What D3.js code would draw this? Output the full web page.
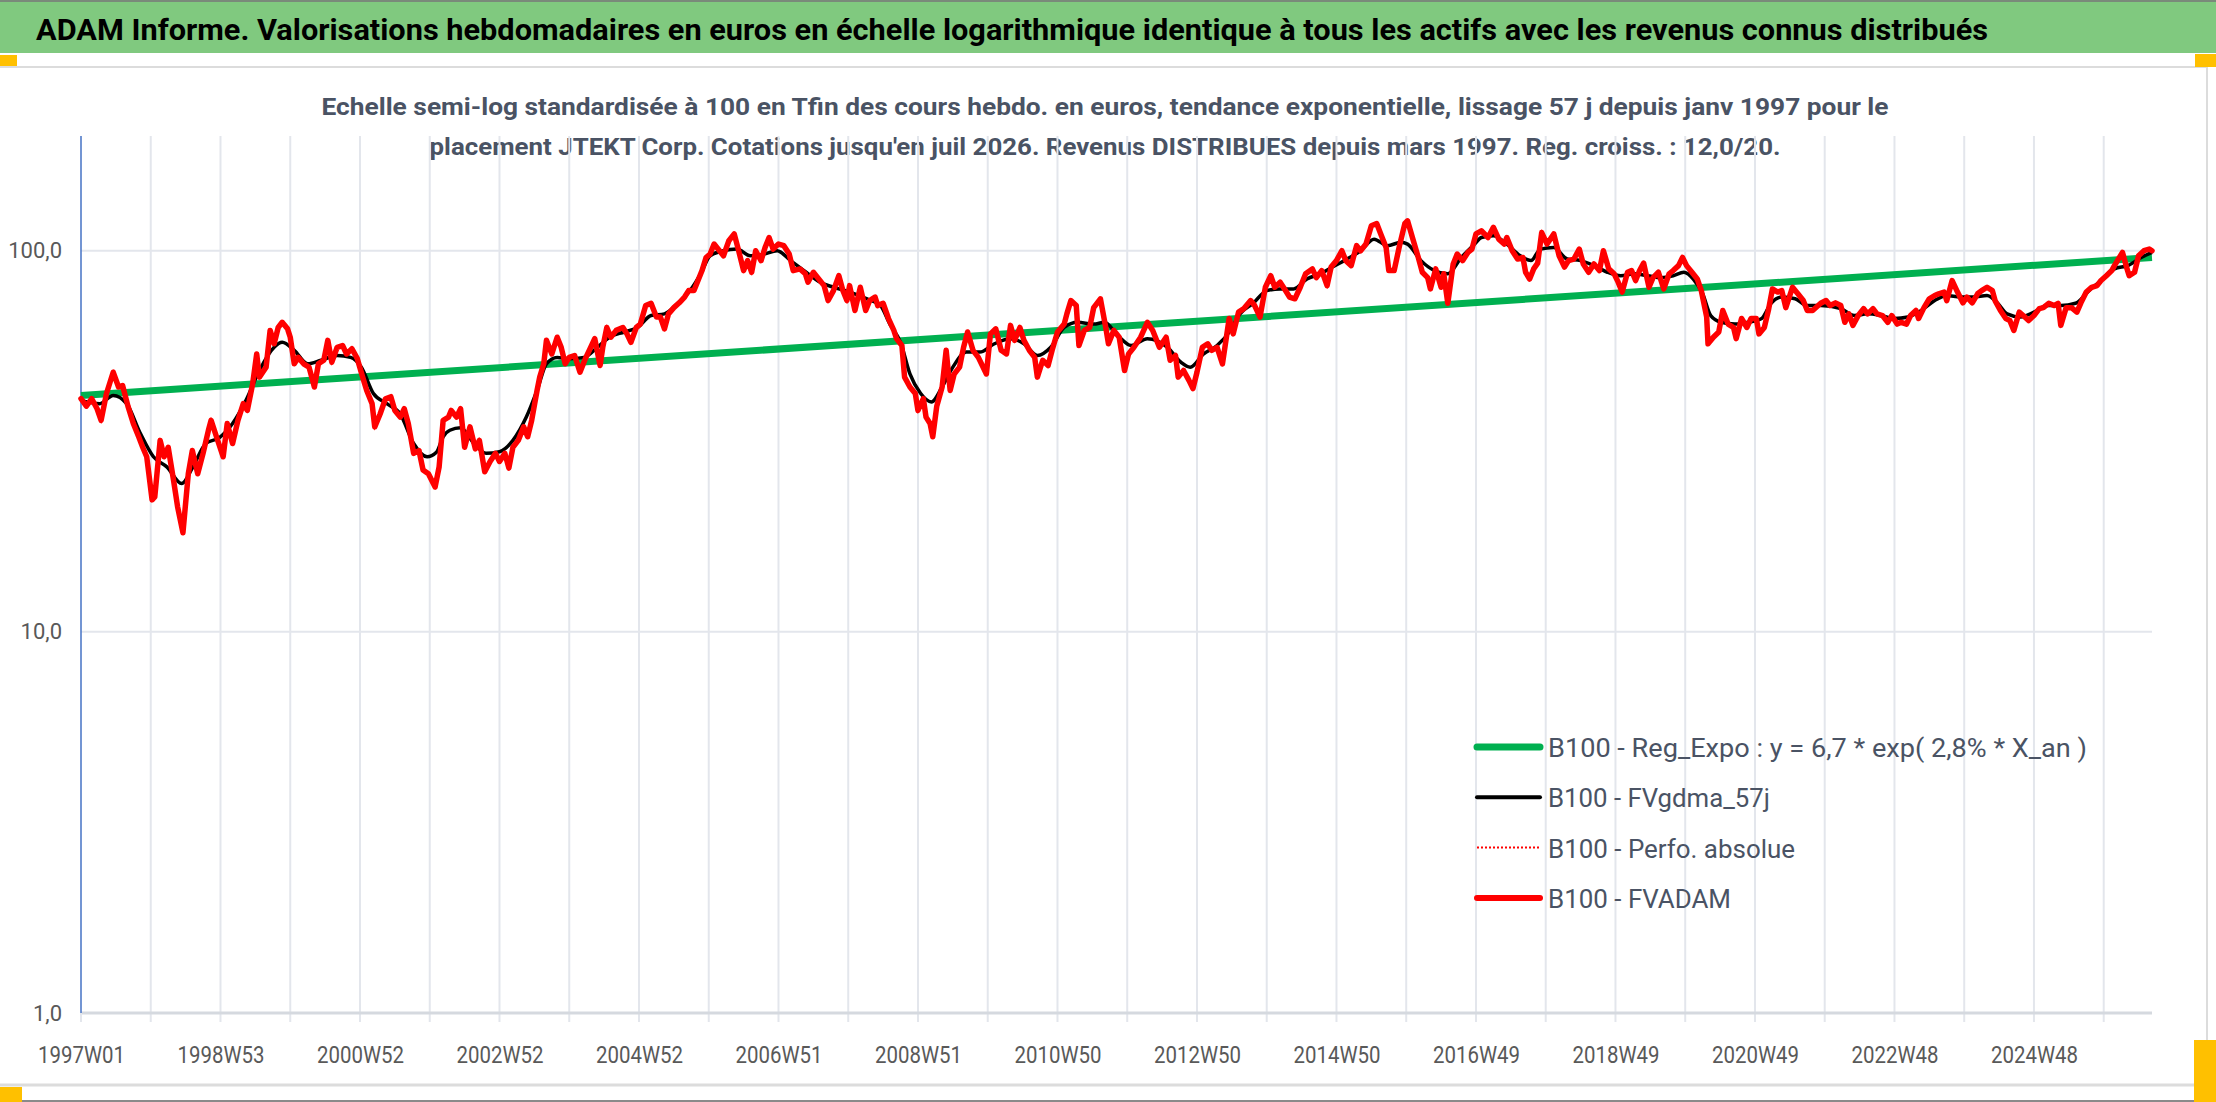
<!DOCTYPE html>
<html>
<head>
<meta charset="utf-8">
<script src="https://cdn.jsdelivr.net/npm/d3@7"></script>
<style>
  html, body { margin: 0; padding: 0; background: #fff; }
  svg { display: block; }
  text { font-family: "Liberation Sans Narrow", "Roboto", "Noto Sans", sans-serif; }
</style>
</head>
<body>
<div id="chart"></div>
<script>
// ---- data ----
const nWeeks = 1545; // 1997W01 .. juil 2026
const xTickLabels = ["1997W01", "1998W53", "2000W52", "2002W52", "2004W52", "2006W51", "2008W51",
  "2010W50", "2012W50", "2014W50", "2016W49", "2018W49", "2020W49", "2022W48", "2024W48"];
const yTicks = [1, 10, 100];

// regression line (straight in semi-log), week index and value
const regWeeks = [0, 1544];
const regValues = [41.7, 96.0];

// B100 - FVADAM : [week index, value]
const fvadam = [[0,40.9],[4,39.1],[8,40.9],[12,38.5],[15,35.9],[19,42.2],[24,48.0],[28,43.9],[31,44.3],[35,39.1],[39,35.2],[43,32.5],[46,30.5],[49,28.8],[53,22.2],[55,22.6],[59,31.8],[62,28.8],[65,30.5],[69,25.0],[72,21.3],[76,18.2],[80,26.0],[83,29.9],[87,26.0],[91,29.4],[95,33.8],[97,35.9],[101,32.5],[106,28.8],[109,35.2],[113,31.2],[117,35.9],[121,39.7],[124,38.1],[128,44.8],[131,53.6],[133,46.6],[138,49.5],[141,61.8],[144,57.0],[147,62.9],[150,64.9],[154,62.4],[156,59.3],[159,50.5],[162,52.5],[166,50.5],[170,49.5],[174,43.9],[177,50.5],[181,51.6],[184,58.2],[187,51.0],[191,55.8],[195,56.4],[198,53.6],[202,55.3],[206,52.1],[210,46.6],[213,43.0],[217,39.7],[219,34.5],[223,37.3],[227,40.9],[231,41.4],[234,38.1],[238,36.6],[241,38.5],[244,35.2],[248,29.4],[252,29.9],[255,26.6],[259,26.0],[264,24.0],[267,27.1],[270,35.9],[274,36.6],[276,38.1],[280,36.6],[283,38.5],[286,30.5],[290,34.5],[294,30.2],[297,31.8],[301,26.3],[305,28.0],[309,29.4],[312,28.0],[316,29.4],[319,26.9],[322,30.5],[326,31.8],[330,34.5],[333,32.5],[336,35.9],[340,43.0],[342,46.6],[345,50.5],[347,58.2],[351,53.6],[355,59.3],[358,55.8],[361,50.5],[364,52.5],[368,53.1],[372,48.0],[376,52.1],[379,54.8],[383,58.8],[387,50.0],[389,55.8],[392,62.9],[395,59.3],[399,61.8],[404,62.9],[407,60.5],[410,57.5],[414,62.9],[417,64.2],[421,71.8],[425,72.8],[429,67.0],[432,67.0],[435,62.4],[438,68.3],[442,70.9],[446,73.0],[450,75.6],[453,78.6],[457,78.6],[460,83.5],[463,88.7],[466,96.0],[469,98.0],[472,104.1],[476,100],[479,97.0],[483,106.2],[487,110.7],[490,101.0],[494,88.7],[497,94.2],[500,87.8],[503,100],[507,94.2],[510,102.0],[513,108.3],[516,101.0],[520,104.1],[524,103.1],[528,98.0],[531,88.7],[536,89.6],[540,87.0],[542,82.7],[546,87.8],[550,84.3],[554,81.0],[557,74.0],[561,78.6],[565,86.0],[568,78.6],[571,74.0],[573,81.0],[577,69.7],[581,80.2],[585,69.7],[588,74.0],[592,75.6],[594,71.8],[598,72.8],[602,66.4],[606,61.8],[608,58.8],[612,56.4],[614,46.6],[618,43.9],[622,42.2],[624,38.1],[628,40.9],[630,36.6],[633,35.2],[635,32.5],[638,39.1],[642,43.9],[645,54.8],[648,43.0],[651,47.5],[655,49.5],[658,55.8],[661,61.2],[665,54.8],[669,52.5],[675,47.5],[678,60.5],[682,62.4],[686,54.8],[690,53.6],[693,63.7],[696,58.2],[700,62.9],[703,58.2],[707,54.8],[711,52.5],[713,46.6],[717,51.6],[721,50.0],[724,54.8],[728,61.2],[733,64.2],[735,68.3],[738,74.0],[742,71.8],[744,56.4],[748,61.8],[752,62.9],[755,70.9],[760,74.8],[764,62.9],[766,57.0],[770,61.8],[774,59.3],[778,48.5],[781,53.6],[785,55.8],[790,59.3],[795,64.9],[799,61.8],[804,55.8],[809,59.3],[812,51.6],[816,53.1],[818,46.6],[822,48.5],[826,45.7],[829,43.5],[832,48.0],[836,55.8],[840,57.0],[843,54.8],[847,55.8],[851,50.5],[856,66.4],[859,60.5],[863,69.0],[867,70.5],[872,74.0],[875,71.8],[879,67.0],[883,80.2],[887,86.0],[890,80.2],[894,82.7],[898,78.6],[901,75.6],[905,74.8],[909,80.2],[913,87.0],[918,89.6],[921,85.0],[925,88.7],[929,81.0],[932,90.6],[936,94.2],[940,100],[943,94.2],[947,91.4],[951,103.1],[954,100],[958,104.1],[962,116.3],[966,117.9],[969,110.7],[973,102.0],[975,88.7],[979,88.7],[983,103.1],[987,117.9],[989,119.8],[993,107.2],[997,96.0],[1000,87.8],[1004,85.0],[1006,79.4],[1010,89.6],[1014,80.2],[1016,87.0],[1019,72.8],[1023,92.3],[1026,98.0],[1030,94.2],[1034,99.0],[1037,101.0],[1040,110.7],[1044,112.8],[1049,108.3],[1053,115.2],[1057,107.2],[1061,104.1],[1063,108.3],[1067,100],[1071,95.1],[1075,96.0],[1077,87.8],[1080,84.3],[1083,89.6],[1086,92.8],[1089,111.6],[1093,104.1],[1098,110.7],[1102,97.0],[1106,90.6],[1109,94.2],[1113,95.1],[1117,101.0],[1120,92.3],[1124,87.8],[1128,92.3],[1132,88.7],[1135,100],[1139,89.6],[1143,87.0],[1146,82.7],[1149,77.9],[1153,87.8],[1156,88.7],[1159,83.5],[1162,88.7],[1165,92.8],[1169,80.2],[1172,85.0],[1176,87.8],[1180,79.4],[1184,87.0],[1187,88.7],[1191,91.4],[1194,96.0],[1197,91.4],[1201,87.8],[1205,84.3],[1208,78.6],[1212,67.0],[1213,57.0],[1217,59.3],[1221,61.2],[1224,69.7],[1228,64.2],[1232,62.9],[1234,58.8],[1238,66.4],[1242,62.9],[1245,66.4],[1249,66.4],[1251,60.5],[1255,62.9],[1258,69.7],[1261,79.4],[1265,77.9],[1268,78.6],[1271,70.9],[1276,80.2],[1280,77.1],[1284,74.0],[1287,69.7],[1291,69.7],[1297,72.8],[1301,74.0],[1304,71.8],[1308,73.0],[1312,71.8],[1315,64.9],[1318,68.3],[1321,63.7],[1325,67.6],[1329,70.5],[1332,68.3],[1336,70.5],[1339,68.3],[1343,67.6],[1347,64.9],[1350,67.6],[1354,64.2],[1357,64.9],[1361,64.2],[1364,67.6],[1368,69.7],[1370,66.4],[1374,70.9],[1378,74.8],[1382,76.3],[1385,77.1],[1389,77.9],[1391,74.0],[1395,83.5],[1399,77.9],[1403,73.0],[1406,75.6],[1410,73.0],[1414,77.1],[1417,78.6],[1421,80.2],[1425,78.6],[1427,74.0],[1431,69.7],[1435,66.4],[1438,65.6],[1441,61.8],[1445,69.0],[1448,67.6],[1452,65.6],[1456,67.6],[1460,70.5],[1463,70.9],[1467,72.8],[1471,71.8],[1474,72.8],[1476,63.7],[1480,70.9],[1484,70.9],[1488,69.0],[1491,73.0],[1495,77.9],[1499,80.2],[1503,81.0],[1506,83.5],[1510,86.0],[1514,88.7],[1516,91.4],[1519,95.1],[1522,99.0],[1525,90.6],[1527,86.0],[1531,87.8],[1534,97.0],[1538,100],[1542,101.0],[1544,100]];

// B100 - FVgdma_57j : [week index, value]
const fvgdma = [[0,40.5],[14,39.7],[24,41.7],[34,39.7],[44,33.3],[54,28.8],[64,27.1],[75,24.5],[83,26.9],[93,31.2],[103,32.3],[113,35.2],[123,40.5],[133,48.5],[144,55.8],[150,57.5],[159,54.8],[169,50.5],[179,51.6],[191,53.1],[201,52.5],[209,49.5],[218,42.2],[228,39.7],[238,37.3],[248,31.2],[258,28.8],[265,29.6],[270,32.5],[275,33.8],[283,34.3],[293,31.2],[302,29.4],[312,29.7],[322,31.8],[332,36.6],[340,43.0],[347,50.5],[355,52.5],[364,52.1],[375,52.5],[385,55.8],[394,59.3],[405,61.2],[415,62.9],[425,67.6],[435,68.3],[445,72.8],[454,78.6],[462,87.0],[469,97.0],[479,100],[489,101.0],[499,97.0],[509,98.0],[519,100],[529,94.2],[539,88.7],[551,82.7],[561,80.2],[573,77.9],[586,74.8],[596,71.8],[603,64.2],[611,57.5],[618,47.5],[626,42.2],[634,40.1],[642,43.9],[650,49.5],[660,54.2],[670,54.2],[681,57.0],[693,58.8],[703,57.0],[713,53.1],[723,55.8],[733,62.9],[743,64.9],[755,64.2],[763,64.9],[773,59.9],[783,56.4],[795,58.8],[810,55.8],[820,51.0],[827,49.5],[837,53.6],[847,56.4],[857,61.8],[864,68.3],[874,72.8],[884,78.6],[894,79.4],[904,79.4],[914,84.3],[924,87.0],[933,90.6],[944,95.1],[954,100],[964,107.2],[974,103.1],[984,105.2],[989,104.1],[999,94.2],[1009,88.7],[1019,87.0],[1029,96.0],[1039,104.1],[1044,108.3],[1053,109.5],[1063,104.1],[1073,97.0],[1081,94.2],[1088,101.0],[1098,102.0],[1108,95.1],[1118,94.2],[1128,91.4],[1138,87.8],[1148,86.0],[1158,87.0],[1168,86.0],[1178,85.0],[1187,86.0],[1195,87.8],[1202,84.3],[1209,77.1],[1215,67.6],[1223,64.9],[1233,64.2],[1243,64.9],[1253,66.4],[1260,72.8],[1268,75.6],[1278,74.8],[1287,71.8],[1297,71.8],[1312,70.5],[1322,67.6],[1332,68.3],[1342,67.6],[1352,66.4],[1362,67.0],[1372,69.7],[1382,74.0],[1391,76.3],[1401,75.6],[1411,75.6],[1421,76.3],[1429,72.8],[1436,68.3],[1446,67.0],[1456,69.0],[1466,71.8],[1476,71.8],[1487,72.8],[1497,78.6],[1506,83.5],[1516,89.6],[1526,91.4],[1536,96.0],[1544,99.0]];

const legendNames = ["B100 - Reg_Expo : y = 6,7 * exp( 2,8% *  X_an )", "B100 - FVgdma_57j",
  "B100 - Perfo. absolue", "B100 - FVADAM"];

const titleText = "ADAM Informe. Valorisations hebdomadaires en euros en échelle logarithmique identique à tous les actifs avec les revenus connus distribués";
const subtitleLines = [
  "Echelle semi-log standardisée à 100 en Tfin des cours hebdo. en euros, tendance exponentielle, lissage 57 j depuis janv 1997 pour le",
  "placement JTEKT Corp. Cotations jusqu'en juil 2026. Revenus DISTRIBUES depuis mars 1997. Reg. croiss. : 12,0/20."
];

// ---- layout ----
const W = 2216, H = 1102;
const plot = { left: 81, right: 2152, top: 136, bottom: 1013 };

const svg = d3.select("#chart").append("svg")
  .attr("width", W)
  .attr("height", H);

// header band
svg.append("rect").attr("x", 0).attr("y", 0).attr("width", W).attr("height", 53).attr("fill", "#80c97f");
svg.append("rect").attr("x", 0).attr("y", 0).attr("width", W).attr("height", 2).attr("fill", "#7a8a7a");
svg.append("text")
  .attr("x", 36).attr("y", 40)
  .attr("textLength", 1952).attr("lengthAdjust", "spacingAndGlyphs")
  .style("font-size", "30px").style("font-weight", "bold").style("fill", "#000")
  .text(titleText);

// chart frame
svg.append("line").attr("x1", 0).attr("x2", 2208).attr("y1", 67).attr("y2", 67)
  .style("stroke", "#dcdcdc").style("stroke-width", 2);
svg.append("line").attr("x1", 0).attr("x2", 2208).attr("y1", 1085).attr("y2", 1085)
  .style("stroke", "#dcdcdc").style("stroke-width", 3);
svg.append("line").attr("x1", 2207).attr("x2", 2207).attr("y1", 67).attr("y2", 1085)
  .style("stroke", "#dcdcdc").style("stroke-width", 2);
svg.append("line").attr("x1", 0).attr("x2", W).attr("y1", 1101).attr("y2", 1101)
  .style("stroke", "#8a8a8a").style("stroke-width", 2);

// selection handles
[[0, 55, 17, 11], [2195, 54, 21, 13], [0, 1087, 22, 15], [2194, 1040, 22, 62]].forEach(function(r) {
  svg.append("rect").attr("x", r[0]).attr("y", r[1]).attr("width", r[2]).attr("height", r[3]).attr("fill", "#ffc000");
});

// subtitle
subtitleLines.forEach(function(line, i) {
  svg.append("text")
    .attr("x", 1105).attr("y", 115 + i * 40)
    .attr("text-anchor", "middle")
    .attr("textLength", i === 0 ? 1567 : 1351).attr("lengthAdjust", "spacingAndGlyphs")
    .style("font-size", "23px").style("font-weight", "bold").style("fill", "#4a5364")
    .text(line);
});

// ---- scales ----
const xScale = d3.scaleLinear().domain([0, nWeeks - 1]).range([plot.left, plot.right]);
const yScale = d3.scaleLog().domain([1, 200]).range([plot.bottom, plot.top]);

// vertical grid every 52 weeks, with ticks below the axis
const gridWeeks = d3.range(52, nWeeks, 52);
svg.append("g").selectAll("line")
  .data(gridWeeks)
  .enter()
  .append("line")
  .attr("x1", function(d) { return xScale(d); })
  .attr("x2", function(d) { return xScale(d); })
  .attr("y1", plot.top)
  .attr("y2", plot.bottom + 9)
  .style("stroke", "#e3e6ec")
  .style("stroke-width", 2);

// horizontal grid at decades
svg.append("g").selectAll("line")
  .data(yTicks.filter(function(d) { return d > 1; }))
  .enter()
  .append("line")
  .attr("x1", plot.left)
  .attr("x2", plot.right)
  .attr("y1", function(d) { return yScale(d); })
  .attr("y2", function(d) { return yScale(d); })
  .style("stroke", "#e3e6ec")
  .style("stroke-width", 2);

// bottom axis line
svg.append("line")
  .attr("x1", plot.left).attr("x2", plot.right)
  .attr("y1", plot.bottom).attr("y2", plot.bottom)
  .style("stroke", "#d5d9df").style("stroke-width", 3);
svg.append("line")
  .attr("x1", plot.left).attr("x2", plot.left)
  .attr("y1", plot.bottom + 9).attr("y2", plot.bottom)
  .style("stroke", "#e3e6ec").style("stroke-width", 2);

// x axis labels
const xAxis = d3.axisBottom(xScale)
  .tickValues(d3.range(0, nWeeks, 104))
  .tickFormat(function(d, i) { return xTickLabels[i]; })
  .tickSize(0)
  .tickPadding(34);
const gx = svg.append("g")
  .attr("transform", "translate(0," + plot.bottom + ")")
  .call(xAxis);
gx.select(".domain").remove();
gx.selectAll("text")
  .style("font-size", "23px")
  .style("fill", "#595959")
  .attr("textLength", 87)
  .attr("lengthAdjust", "spacingAndGlyphs");

// y axis
const yAxis = d3.axisLeft(yScale)
  .tickValues(yTicks)
  .tickFormat(function(d) { return d.toFixed(1).replace(".", ","); })
  .tickSize(0)
  .tickPadding(19);
const gy = svg.append("g")
  .attr("transform", "translate(" + plot.left + ",0)")
  .call(yAxis);
gy.select(".domain").remove();
gy.selectAll("text")
  .style("font-size", "22px")
  .style("fill", "#595959");
svg.append("line")
  .attr("x1", plot.left).attr("x2", plot.left)
  .attr("y1", plot.top).attr("y2", plot.bottom)
  .style("stroke", "#4472c4").style("stroke-width", 1.5);

// ---- series ----
const line = d3.line()
  .x(function(d) { return xScale(d[0]); })
  .y(function(d) { return yScale(d[1]); });

svg.append("path")
  .datum(regWeeks.map(function(w, i) { return [w, regValues[i]]; }))
  .attr("d", line)
  .style("fill", "none").style("stroke", "#00b050").style("stroke-width", 7);

svg.append("path")
  .datum(fvgdma)
  .attr("d", line.curve(d3.curveMonotoneX))
  .style("fill", "none").style("stroke", "#000").style("stroke-width", 3.5)
  .style("stroke-linejoin", "round");
line.curve(d3.curveLinear);

svg.append("path")
  .datum(fvadam)
  .attr("d", line)
  .style("fill", "none").style("stroke", "#ff0000").style("stroke-width", 2)
  .style("stroke-dasharray", "2,3");

svg.append("path")
  .datum(fvadam)
  .attr("d", line)
  .style("fill", "none").style("stroke", "#ff0000").style("stroke-width", 5.5)
  .style("stroke-linejoin", "round").style("stroke-linecap", "round");

// ---- legend ----
const legendStyles = [
  { color: "#00b050", width: 7, dash: null, len: 539 },
  { color: "#000", width: 4, dash: null, len: 222 },
  { color: "#ff0000", width: 2, dash: "2,2", len: 247 },
  { color: "#ff0000", width: 6, dash: null, len: 183 }
];
const legend = svg.append("g").attr("transform", "translate(1477,747)");
legendNames.forEach(function(name, i) {
  const s = legendStyles[i];
  legend.append("line")
    .attr("x1", 0).attr("x2", 63)
    .attr("y1", i * 50.3).attr("y2", i * 50.3)
    .style("stroke", s.color).style("stroke-width", s.width)
    .style("stroke-linecap", s.dash ? "butt" : "round")
    .style("stroke-dasharray", s.dash);
  legend.append("text")
    .attr("x", 71).attr("y", i * 50.3 + 10)
    .attr("textLength", s.len).attr("lengthAdjust", "spacingAndGlyphs")
    .style("font-size", "26px").style("fill", "#4a5364")
    .text(name);
});
</script>
</body>
</html>
